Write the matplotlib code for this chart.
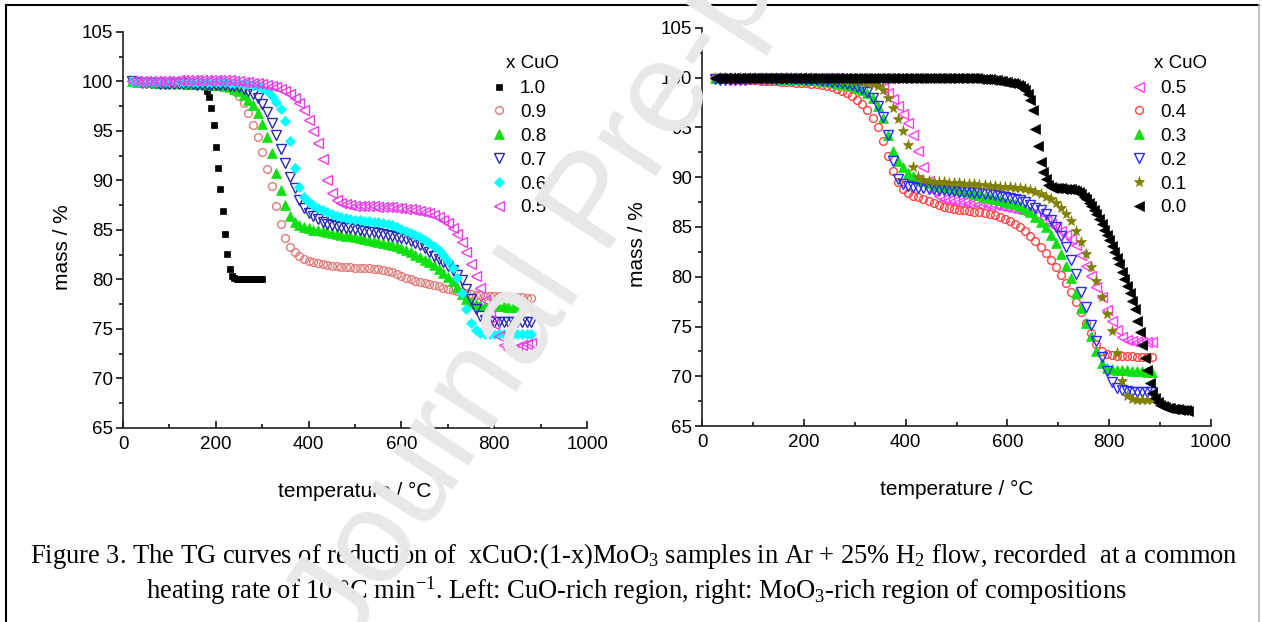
import matplotlib.pyplot as plt
import numpy as np
from matplotlib.lines import Line2D

plt.rcParams['font.family'] = ['Liberation Sans', 'DejaVu Sans']
plt.rcParams['mathtext.fontset'] = 'custom'
plt.rcParams['mathtext.rm'] = 'Liberation Serif'

# ---- left panel: CuO-rich compositions (mass in %, start temperature and step in degC)
left_labels = ['1.0', '0.9', '0.8', '0.7', '0.6', '0.5']
left_start = [20, 20, 20, 20, 20, 20]
left_step = [5, 10, 10, 10, 10, 10]

mass_100 = [100.0, 100.0, 100.0, 100.0, 100.0, 100.0, 100.0, 100.0, 100.0, 100.0,
            100.0, 100.0, 100.0, 100.0, 100.0, 100.0, 100.0, 100.0, 100.0, 100.0,
            100.0, 100.0, 100.0, 100.0, 99.9, 99.9, 99.9, 99.9, 99.9, 99.9,
            99.8, 99.5, 99.0, 98.4, 97.3, 95.6, 93.4, 91.3, 89.1, 86.9,
            84.6, 82.6, 81.1, 80.4, 80.15, 80.05, 80.0, 80.0, 80.0, 80.0,
            80.0, 80.0, 80.0, 80.0, 80.0, 80.0, 80.0]
mass_090 = [100.0, 100.0, 99.9, 99.9, 99.9, 99.9, 99.9, 99.9, 99.9, 99.9,
            99.9, 99.8, 99.8, 99.8, 99.8, 99.8, 99.8, 99.7, 99.7, 99.6,
            99.5, 99.3, 99.0, 98.5, 97.8, 96.8, 95.6, 94.4, 92.9, 91.2,
            89.4, 87.4, 85.6, 84.2, 83.3, 82.8, 82.4, 82.1, 81.9, 81.8,
            81.7, 81.6, 81.5, 81.4, 81.4, 81.3, 81.3, 81.3, 81.2, 81.2,
            81.2, 81.2, 81.1, 81.1, 81.0, 80.9, 80.8, 80.6, 80.4, 80.2,
            80.0, 79.8, 79.7, 79.6, 79.5, 79.4, 79.3, 79.1, 79.0, 78.9,
            78.8, 78.7, 78.6, 78.5, 78.4, 78.4, 78.3, 78.3, 78.3, 78.3,
            78.2, 78.2, 78.2, 78.2, 78.2, 78.1, 78.1]
mass_080 = [100.0, 99.9, 99.9, 99.9, 99.9, 99.8, 99.8, 99.8, 99.8, 99.8,
            99.8, 99.8, 99.7, 99.7, 99.7, 99.7, 99.7, 99.6, 99.6, 99.6,
            99.5, 99.4, 99.25, 99.0, 98.6, 98.1, 97.6, 96.8, 95.7, 94.4,
            92.8, 90.8, 89.0, 87.5, 86.4, 85.8, 85.5, 85.3, 85.2, 85.0,
            85.0, 84.9, 84.8, 84.7, 84.6, 84.5, 84.4, 84.35, 84.3, 84.2,
            84.1, 84.0, 83.9, 83.8, 83.7, 83.6, 83.5, 83.4, 83.2, 83.0,
            82.8, 82.5, 82.3, 82.0, 81.8, 81.5, 81.1, 80.7, 80.3, 79.8,
            79.2, 78.5, 78.0, 77.7, 77.5, 77.4, 77.3, 77.3, 77.3, 77.3,
            77.3, 77.2, 77.2, 77.2, 77.2, 77.2, 77.2]
mass_070 = [100.0, 99.9, 99.8, 99.8, 99.8, 99.8, 99.7, 99.7, 99.7, 99.7,
            99.7, 99.7, 99.7, 99.7, 99.6, 99.6, 99.6, 99.6, 99.6, 99.6,
            99.6, 99.5, 99.5, 99.4, 99.2, 99.0, 98.7, 98.3, 97.7, 96.9,
            95.8, 94.6, 93.2, 91.8, 90.4, 89.2, 88.0, 87.2, 86.7, 86.4,
            86.1, 85.8, 85.6, 85.5, 85.4, 85.3, 85.2, 85.15, 85.1, 85.0,
            84.9, 84.8, 84.8, 84.7, 84.6, 84.5, 84.4, 84.3, 84.2, 84.05,
            83.9, 83.7, 83.5, 83.2, 82.8, 82.4, 82.1, 81.8, 81.4, 81.0,
            80.5, 79.9, 79.0, 78.0, 77.0, 76.3, 75.9, 75.8, 75.7, 75.7,
            75.7, 75.7, 75.7, 75.7, 75.7, 75.7, 75.7]
mass_060 = [100.0, 99.9, 99.9, 99.9, 99.9, 99.9, 99.9, 99.9, 99.9, 99.9,
            99.9, 99.9, 99.9, 99.9, 99.9, 99.9, 99.9, 99.9, 99.9, 99.9,
            99.9, 99.8, 99.8, 99.8, 99.7, 99.7, 99.6, 99.5, 99.3, 99.0,
            98.5, 97.9, 97.2, 96.0, 94.0, 91.3, 89.3, 88.3, 87.8, 87.5,
            87.2, 87.0, 86.8, 86.6, 86.4, 86.3, 86.2, 86.1, 86.05, 86.0,
            85.95, 85.9, 85.85, 85.8, 85.7, 85.6, 85.5, 85.3, 85.1, 84.9,
            84.7, 84.5, 84.3, 84.0, 83.7, 83.4, 83.0, 82.5, 81.9, 81.2,
            80.2, 78.6, 77.0, 75.6, 74.9, 74.6, 74.5, 74.5, 74.5, 74.5,
            74.5, 74.5, 74.5, 74.5, 74.5, 74.5, 74.5]
mass_050 = [100.0, 100.0, 100.0, 100.0, 100.0, 100.0, 100.0, 100.0, 100.0, 100.0,
            100.1, 100.1, 100.1, 100.1, 100.1, 100.1, 100.1, 100.1, 100.1, 100.1,
            100.1, 100.1, 100.0, 100.0, 99.9, 99.9, 99.8, 99.8, 99.7, 99.6,
            99.5, 99.4, 99.2, 99.0, 98.7, 98.3, 97.8, 97.1, 96.1, 95.0,
            93.8, 92.2, 90.0, 88.7, 88.0, 87.7, 87.6, 87.5, 87.45, 87.4,
            87.4, 87.4, 87.4, 87.35, 87.35, 87.3, 87.3, 87.25, 87.2, 87.15,
            87.1, 87.0, 86.9, 86.8, 86.7, 86.5, 86.3, 86.0, 85.7, 85.2,
            84.6, 83.8, 82.8, 81.6, 80.4, 79.1, 77.9, 76.7, 75.5, 74.3,
            73.4, 73.0, 73.0, 73.2, 73.4, 73.5, 73.6]
left_mass = [mass_100, mass_090, mass_080, mass_070, mass_060, mass_050]

# ---- right panel: MoO3-rich compositions
right_labels = ['0.5', '0.4', '0.3', '0.2', '0.1', '0.0']
right_start = [25, 25, 25, 25, 25, 25]
right_step = [10, 10, 10, 10, 10, 5]

rmass_050 = [100.0, 100.0, 100.0, 100.0, 100.0, 100.0, 100.0, 100.0, 100.0, 100.0,
             100.0, 100.0, 100.0, 100.0, 100.0, 100.0, 100.0, 100.0, 100.0, 100.0,
             100.0, 100.0, 100.0, 100.0, 100.0, 99.9, 99.9, 99.8, 99.8, 99.7,
             99.6, 99.5, 99.3, 99.0, 98.5, 97.9, 97.2, 96.4, 95.5, 94.2,
             92.6, 91.0, 89.6, 88.6, 88.1, 87.8, 87.7, 87.6, 87.55, 87.5,
             87.45, 87.4, 87.35, 87.3, 87.25, 87.2, 87.1, 87.0, 86.9, 86.8,
             86.7, 86.5, 86.3, 86.1, 85.8, 85.6, 85.3, 85.0, 84.6, 84.2,
             83.8, 83.2, 82.2, 81.1, 80.1, 79.0, 78.0, 76.7, 75.6, 74.6,
             73.9, 73.6, 73.5, 73.4, 73.4, 73.4, 73.4]
rmass_040 = [100.0, 99.9, 99.9, 99.8, 99.8, 99.8, 99.8, 99.8, 99.8, 99.7,
             99.7, 99.7, 99.7, 99.6, 99.6, 99.6, 99.5, 99.5, 99.5, 99.4,
             99.35, 99.3, 99.2, 99.1, 98.9, 98.7, 98.5, 98.2, 97.8, 97.4,
             96.8, 96.0, 95.0, 93.6, 92.1, 90.6, 89.5, 88.8, 88.4, 88.1,
             88.0, 87.8, 87.6, 87.4, 87.2, 87.0, 86.9, 86.8, 86.75, 86.7,
             86.6, 86.55, 86.5, 86.4, 86.3, 86.2, 86.05, 85.85, 85.6, 85.3,
             85.0, 84.6, 84.1, 83.6, 83.0, 82.4, 81.7, 81.0, 80.2, 79.4,
             78.5, 77.5, 76.5, 75.4, 74.3, 73.2, 72.5, 72.2, 72.1, 72.0,
             72.0, 72.0, 72.0, 71.95, 71.9, 71.9, 71.9]
rmass_030 = [100.0, 100.0, 100.0, 100.0, 100.0, 100.0, 100.0, 100.0, 100.0, 100.0,
             100.0, 100.0, 100.0, 99.9, 99.9, 99.9, 99.9, 99.9, 99.8, 99.8,
             99.8, 99.7, 99.7, 99.6, 99.5, 99.4, 99.3, 99.2, 99.0, 98.8,
             98.5, 98.0, 97.2, 96.0, 94.2, 92.6, 91.6, 91.0, 90.4, 90.1,
             89.85, 89.6, 89.4, 89.25, 89.1, 89.0, 88.9, 88.8, 88.7, 88.6,
             88.5, 88.35, 88.2, 88.05, 87.95, 87.85, 87.7, 87.55, 87.4, 87.3,
             87.1, 86.85, 86.5, 86.0, 85.5, 85.0, 84.2, 83.4, 82.3, 81.1,
             79.9, 78.4, 76.9, 75.4, 74.0, 72.5, 71.3, 70.8, 70.7, 70.6,
             70.6, 70.6, 70.5, 70.5, 70.5, 70.4, 70.4]
rmass_020 = [99.9, 99.8, 99.8, 99.8, 99.8, 99.8, 99.8, 99.85, 99.9, 99.9,
             99.9, 99.9, 99.9, 99.9, 99.9, 99.9, 99.9, 99.9, 99.8, 99.8,
             99.8, 99.7, 99.7, 99.6, 99.6, 99.5, 99.4, 99.3, 99.1, 98.9,
             98.6, 98.0, 97.2, 96.1, 94.2, 91.6, 89.8, 89.3, 89.1, 89.0,
             88.95, 88.9, 88.85, 88.8, 88.75, 88.7, 88.65, 88.6, 88.55, 88.5,
             88.5, 88.45, 88.4, 88.35, 88.3, 88.2, 88.1, 88.0, 87.9, 87.85,
             87.7, 87.5, 87.25, 86.95, 86.7, 86.35, 85.7, 85.0, 84.1, 83.0,
             81.7, 80.3, 78.5, 77.0, 75.2, 73.5, 71.9, 70.5, 69.4, 68.8,
             68.6, 68.5, 68.4, 68.4, 68.4, 68.4, 68.4]
rmass_010 = [100.0, 100.0, 100.0, 100.0, 100.0, 100.0, 100.0, 100.0, 100.0, 100.0,
             100.0, 100.0, 100.0, 100.0, 100.0, 100.0, 100.0, 100.0, 100.0, 100.0,
             99.9, 99.9, 99.9, 99.9, 99.8, 99.8, 99.8, 99.7, 99.7, 99.6,
             99.5, 99.4, 99.2, 98.8, 98.0, 97.0, 95.9, 94.6, 93.2, 91.0,
             90.0, 89.7, 89.6, 89.55, 89.5, 89.5, 89.45, 89.4, 89.4, 89.35,
             89.3, 89.3, 89.25, 89.2, 89.15, 89.1, 89.05, 89.0, 89.0, 88.95,
             88.9, 88.8, 88.7, 88.5, 88.3, 88.05, 87.8, 87.4, 86.9, 86.3,
             85.6, 84.6, 83.5, 82.3, 81.0, 79.6, 78.0, 76.3, 74.5, 72.3,
             69.5, 68.0, 67.7, 67.6, 67.6, 67.6, 67.6]
rmass_000 = [100.0, 100.0, 100.0, 100.0, 100.0, 100.0, 100.0, 100.0, 100.0, 100.0,
             100.0, 100.0, 100.0, 100.0, 100.0, 100.0, 100.0, 100.0, 100.0, 100.0,
             100.0, 100.0, 100.0, 100.0, 100.0, 100.0, 100.0, 100.0, 100.0, 100.0,
             100.0, 100.0, 100.0, 100.0, 100.0, 100.0, 100.0, 100.0, 100.0, 100.0,
             100.0, 100.0, 100.0, 100.0, 100.0, 100.0, 100.0, 100.0, 100.0, 100.0,
             100.0, 100.0, 100.0, 100.0, 100.0, 100.0, 100.0, 100.0, 100.0, 100.0,
             100.0, 100.0, 100.0, 100.0, 100.0, 100.0, 100.0, 100.0, 100.0, 100.0,
             100.0, 100.0, 100.0, 100.0, 100.0, 100.0, 100.0, 100.0, 100.0, 100.0,
             100.0, 100.0, 100.0, 100.0, 100.0, 100.0, 100.0, 100.0, 100.0, 100.0,
             100.0, 100.0, 100.0, 100.0, 100.0, 100.0, 100.0, 100.0, 100.0, 100.0,
             100.0, 100.0, 99.95, 99.95, 99.9, 99.9, 99.9, 99.85, 99.85, 99.8,
             99.8, 99.75, 99.7, 99.65, 99.6, 99.55, 99.5, 99.45, 99.35, 99.25,
             99.15, 99.0, 98.8, 98.4, 97.8, 96.8, 94.8, 93.1, 91.5, 90.5,
             89.8, 89.2, 89.0, 88.95, 88.9, 88.9, 88.9, 88.85, 88.85, 88.8,
             88.8, 88.75, 88.65, 88.5, 88.3, 88.05, 87.8, 87.45, 87.1, 86.75,
             86.35, 85.85, 85.3, 84.7, 84.2, 83.65, 83.1, 82.5, 81.9, 81.25,
             80.5, 79.8, 79.1, 78.4, 77.6, 76.8, 75.6, 74.4, 73.1, 71.8,
             70.6, 69.3, 68.3, 67.8, 67.4, 67.1, 67.0, 66.9, 66.85, 66.8,
             66.75, 66.7, 66.7, 66.65, 66.6, 66.6, 66.5]
right_mass = [rmass_050, rmass_040, rmass_030, rmass_020, rmass_010, rmass_000]


def marker_style(marker, color, ms, filled=True):
    """Marker-only line style, open or filled"""
    return dict(linestyle='none', marker=marker, ms=ms, mec=color,
                mfc=color if filled else 'none', mew=0.5 if filled else 1.0)


left_styles = [marker_style('s', 'black', 4.6),
               marker_style('o', '#e27a7a', 5.6, False),
               marker_style('^', '#10e010', 7.0),
               marker_style('v', '#2a2ab0', 7.0, False),
               marker_style('D', '#00ffff', 5.4),
               marker_style('<', '#e83ee8', 7.0, False)]
right_styles = [marker_style('<', '#ff3cff', 7.0, False),
                marker_style('o', '#ff4444', 5.6, False),
                marker_style('^', '#10e010', 7.0),
                marker_style('v', '#2a2aff', 7.0, False),
                marker_style('*', '#808000', 8.0),
                marker_style('<', 'black', 6.8)]


def plot_tg(ax, labels, starts, steps, masses, styles):
    """Draws one TG panel, one marker series per composition"""
    handles = []
    for label, t0, dt, mass, st in zip(labels, starts, steps, masses, styles):
        temp = t0 + dt * np.arange(len(mass))
        h, = ax.plot(temp, mass, label=label, **st)
        handles.append(h)
    ax.set_xlim(0, 1000)
    ax.set_ylim(65, 105)
    ax.set_xticks(np.arange(0, 1001, 200))
    ax.set_xticks(np.arange(100, 1000, 200), minor=True)
    ax.set_yticks(np.arange(65, 106, 5))
    ax.set_yticks(np.arange(67.5, 105, 5), minor=True)
    ax.tick_params(axis='x', which='both', direction='in', labelsize=13.5, pad=6, width=1.1)
    ax.tick_params(axis='y', which='both', direction='out', labelsize=13.5, pad=2, width=1.1)
    ax.tick_params(which='major', length=5)
    ax.tick_params(which='minor', length=3)
    for side in ['top', 'right']:
        ax.spines[side].set_visible(False)
    for side in ['left', 'bottom']:
        ax.spines[side].set_linewidth(1.2)
        ax.spines[side].set_color('#202020')
    ax.set_xlabel('temperature / °C', fontsize=15)
    ax.set_ylabel('mass / %', fontsize=15)
    ax.xaxis.set_label_coords(0.5, -0.135)
    ax.yaxis.set_label_coords(-0.109, 0.457)
    return handles


W, H = 1262, 622
fig = plt.figure(figsize=(W / 100, H / 100), dpi=100)
ax_l = fig.add_axes([0.0975, 0.3119, 0.3677, 0.6367])
ax_r = fig.add_axes([0.5563, 0.3151, 0.4033, 0.6399])

hl = plot_tg(ax_l, left_labels, left_start, left_step, left_mass, left_styles)
hr = plot_tg(ax_r, right_labels, right_start, right_step, right_mass, right_styles)

# legends: entries plus a "x CuO" heading above them
for ax, hs, x0, title_x in [(ax_l, hl, 490, 532), (ax_r, hr, 1130, 1180)]:
    ax.legend(handles=hs, loc='upper left', bbox_to_anchor=(x0 / W, 1 - 80 / H),
              bbox_transform=fig.transFigure, frameon=False, fontsize=13.5,
              handlelength=1.0, handletextpad=0.6, labelspacing=0.36, borderpad=0,
              borderaxespad=0, numpoints=1)
    fig.text(title_x / W, 1 - 63 / H, 'x CuO', ha='center', va='center', fontsize=13.5)

# caption below both panels
caption_1 = ('Figure 3. The TG curves of reduction of  xCuO:(1-x)MoO$\\mathregular{_3}$ samples in '
             'Ar + 25% H$\\mathregular{_2}$ flow, recorded  at a common')
caption_2 = ('heating rate of 10 °C min$\\mathregular{^{-1}}$. Left: CuO-rich region, right: '
             'MoO$\\mathregular{_3}$-rich region of compositions')
fig.text(634 / W, 1 - 556 / H, caption_1, ha='center', va='center', fontsize=19.1,
         family='Liberation Serif', zorder=2)
fig.text(636 / W, 1 - 591 / H, caption_2, ha='center', va='center', fontsize=19.1,
         family='Liberation Serif', zorder=2)

# watermark over everything
fig.text(597 / W, 1 - 205 / H, 'Journal Pre-proof', rotation=57, rotation_mode='anchor',
         ha='center', va='center', fontsize=95, color='#e8e8e8', family='Liberation Sans', zorder=10)

# frame around the whole figure
fig.add_artist(Line2D([6 / W, 6 / W], [0, 1 - 5 / H], color='black', lw=1.5))
fig.add_artist(Line2D([6 / W, 1259 / W], [1 - 5 / H, 1 - 5 / H], color='black', lw=1.5))
fig.add_artist(Line2D([1259 / W, 1259 / W], [0, 1 - 5 / H], color='#b8b8b8', lw=1.2))

fig.savefig('out.png', dpi=100)
